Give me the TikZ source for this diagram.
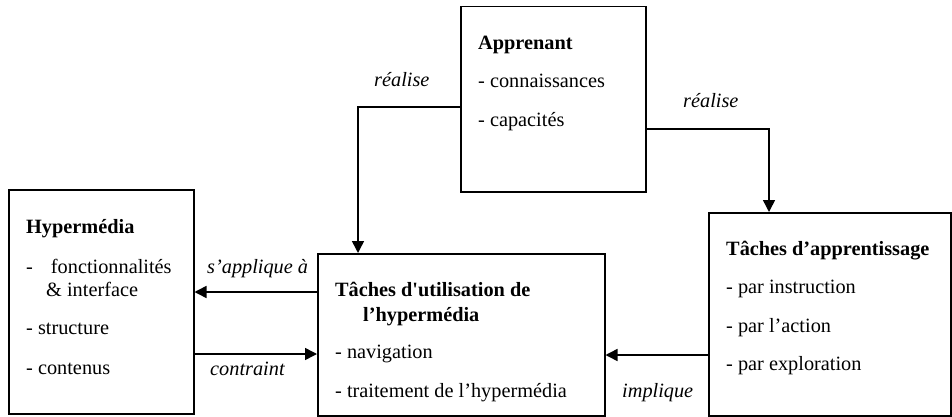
\documentclass[tikz,border=0pt]{standalone}
\usepackage{fontspec}
\setmainfont{Liberation Serif}
\usetikzlibrary{arrows.meta}
\tikzset{
  boxnode/.style={draw, line width=1.5pt, rectangle, inner sep=0pt},
  txt/.style={anchor=base west, inner sep=0pt, font=\fontsize{20.3}{24}\selectfont},
  btxt/.style={txt, font=\fontsize{20.3}{24}\selectfont\bfseries},
  itxt/.style={txt, font=\fontsize{20.3}{24}\selectfont\itshape},
  conn/.style={line width=1.5pt, -{Triangle[length=12pt,width=12pt]}},
  plain/.style={line width=1.5pt}
}
\begin{document}
\begin{tikzpicture}[x=1pt,y=-1pt]
\useasboundingbox (0,0) rectangle (952,417);
% boxes
\node[boxnode, minimum width=185pt, minimum height=185pt, anchor=north west] (app) at (460,6) {};
\node[boxnode, minimum width=185pt, minimum height=224pt, anchor=north west] (hyp) at (8,189) {};
\node[boxnode, minimum width=287pt, minimum height=162pt, anchor=north west] (util) at (317,253) {};
\node[boxnode, minimum width=242pt, minimum height=203pt, anchor=north west] (appr) at (708,212) {};
% Apprenant texts
\node[btxt] (a0) at (478,50) {Apprenant};
\node[txt] (a1) at (478,88) {- connaissances};
\node[txt] (a2) at (478,127) {- capacités};
% Hypermedia texts
\node[btxt] (h0) at (26,233) {Hypermédia};
\node[txt] (h1) at (26,273) {-\hspace{18pt}fonctionnalités};
\node[txt] (h2) at (46,296) {\& interface};
\node[txt] (h3) at (26,334) {- structure};
\node[txt] (h4) at (26,374) {- contenus};
% Taches d'utilisation texts
\node[btxt] (u0) at (335,296) {Tâches d\textquotesingle utilisation de};
\node[btxt] (u1) at (363,321) {l’hypermédia};
\node[txt] (u2) at (335,358) {- navigation};
\node[txt] (u3) at (335,397) {- traitement de l’hypermédia};
% Taches d'apprentissage texts
\node[btxt] (p0) at (726,255) {Tâches d’apprentissage};
\node[txt] (p1) at (726,293) {- par instruction};
\node[txt] (p2) at (726,332) {- par l’action};
\node[txt] (p3) at (726,370) {- par exploration};
% connector labels
\node[itxt] (l1) at (374,87) {réalise};
\node[itxt] (l2) at (683,107) {réalise};
\node[itxt] (l3) at (207,273) {s’applique à};
\node[itxt] (l4) at (210,375) {contraint};
\node[itxt] (l5) at (622,397) {implique};
% connector routing points
\coordinate (r1) at (358,107);
\coordinate (r2) at (769,129);
\coordinate (k1) at (0,292);
\coordinate (k2) at (0,354);
\coordinate (k3) at (0,355);
% connectors
\draw[conn] (app.west |- r1) -| (r1 |- util.north);
\draw[conn] (app.east |- r2) -| (r2 |- appr.north);
\draw[conn] (util.west |- k1) -- (hyp.east |- k1);
\draw[conn] (hyp.east |- k2) -- (util.west |- k2);
\draw[conn] (appr.west |- k3) -- (util.east |- k3);
\end{tikzpicture}
\end{document}
